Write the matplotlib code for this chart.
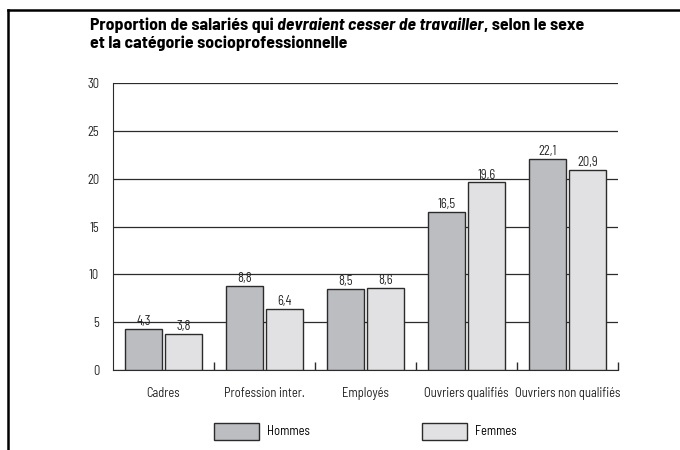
import matplotlib
matplotlib.use("Agg")
import matplotlib.pyplot as plt
import numpy as np
from matplotlib.patches import Patch
from matplotlib.lines import Line2D

# condensed face like the original; falls back to DejaVu if missing
plt.rcParams['font.family'] = ['Barlow Semi Condensed', 'Asap Condensed', 'DejaVu Sans']

# data
categories = ["Cadres", "Profession inter.", "Employés",
              "Ouvriers qualifiés", "Ouvriers non qualifiés"]
hommes = [4.3, 8.8, 8.5, 16.5, 22.1]
femmes = [3.8, 6.4, 8.6, 19.6, 20.9]
yticks = [0, 5, 10, 15, 20, 25, 30]

col_h = "#bcbdc1"
col_f = "#e1e1e3"
edge = "#2b2b2b"
txt = "#222222"
fs = 9

fig = plt.figure(figsize=(6.8, 4.5), dpi=100)
ax = fig.add_axes([113/680, 1-370/450, 505/680, 287/450])

x = np.arange(len(categories))
w = 0.366
gap = 0.015
ax.bar(x - w/2 - gap, hommes, w, color=col_h, edgecolor=edge, linewidth=1, zorder=3)
ax.bar(x + w/2 + gap, femmes, w, color=col_f, edgecolor=edge, linewidth=1, zorder=3)

def fmt(v):
    return f"{v:.1f}".replace('.', ',')

for xs, vals in [(x - w/2 - gap, hommes), (x + w/2 + gap, femmes)]:
    for xi, v in zip(xs, vals):
        ax.text(xi, v + 0.1, fmt(v), ha='center', va='bottom', fontsize=fs, color=txt)

ax.set_xlim(-0.5, 4.5)
ax.set_ylim(0, 30)
ax.set_yticks(yticks)
ax.set_yticklabels([str(t) for t in yticks], fontsize=fs, color=txt)
ax.tick_params(axis='y', length=0, pad=10)
ax.set_xticks(x)
ax.set_xticklabels(categories, fontsize=fs, color=txt)
ax.tick_params(axis='x', which='major', length=0, pad=12)
ax.set_xticks(np.arange(0.5, 5, 1), minor=True)
ax.tick_params(axis='x', which='minor', direction='in', length=6, color=edge, width=1)

ax.grid(axis='y', color=edge, linewidth=0.9, zorder=0)
ax.set_axisbelow(True)
for s in ['top', 'right']:
    ax.spines[s].set_visible(False)
ax.spines['left'].set_color(edge)
ax.spines['bottom'].set_color(edge)

# legend
handles = [Patch(facecolor=col_h, edgecolor=edge, linewidth=1),
           Patch(facecolor=col_f, edgecolor=edge, linewidth=1)]
fig.legend(handles, ["Hommes", "Femmes"], loc='center', bbox_to_anchor=(0.537, 0.042),
           ncol=2, frameon=False, fontsize=fs, handlelength=3.6, handleheight=1.7,
           handletextpad=0.6, columnspacing=9)

# title, middle part in italic
ty = 1 - 30/450
tfs = 12.8
t1 = fig.text(90/680, ty, "Proportion de salariés qui ", fontsize=tfs,
              fontweight='bold', va='baseline')
t2 = fig.text(0, ty, "devraient cesser de travailler", fontsize=tfs, fontweight='bold',
              fontstyle='italic', va='baseline')
fig.canvas.draw()
r = fig.canvas.get_renderer()
t2.set_x(t1.get_window_extent(r).x1 / fig.bbox.width)
fig.canvas.draw()
fig.text(t2.get_window_extent(r).x1 / fig.bbox.width, ty, ", selon le sexe", fontsize=tfs,
         fontweight='bold', va='baseline')
fig.text(90/680, 1-48/450, "et la catégorie socioprofessionnelle", fontsize=tfs,
         fontweight='bold', va='baseline')

# frame lines (top and left)
fig.add_artist(Line2D([8/680, 1], [1-10/450, 1-10/450], color='black', linewidth=1.8))
fig.add_artist(Line2D([8/680, 8/680], [0, 1-10/450], color='black', linewidth=1.8))

fig.savefig("out.png", dpi=100)
